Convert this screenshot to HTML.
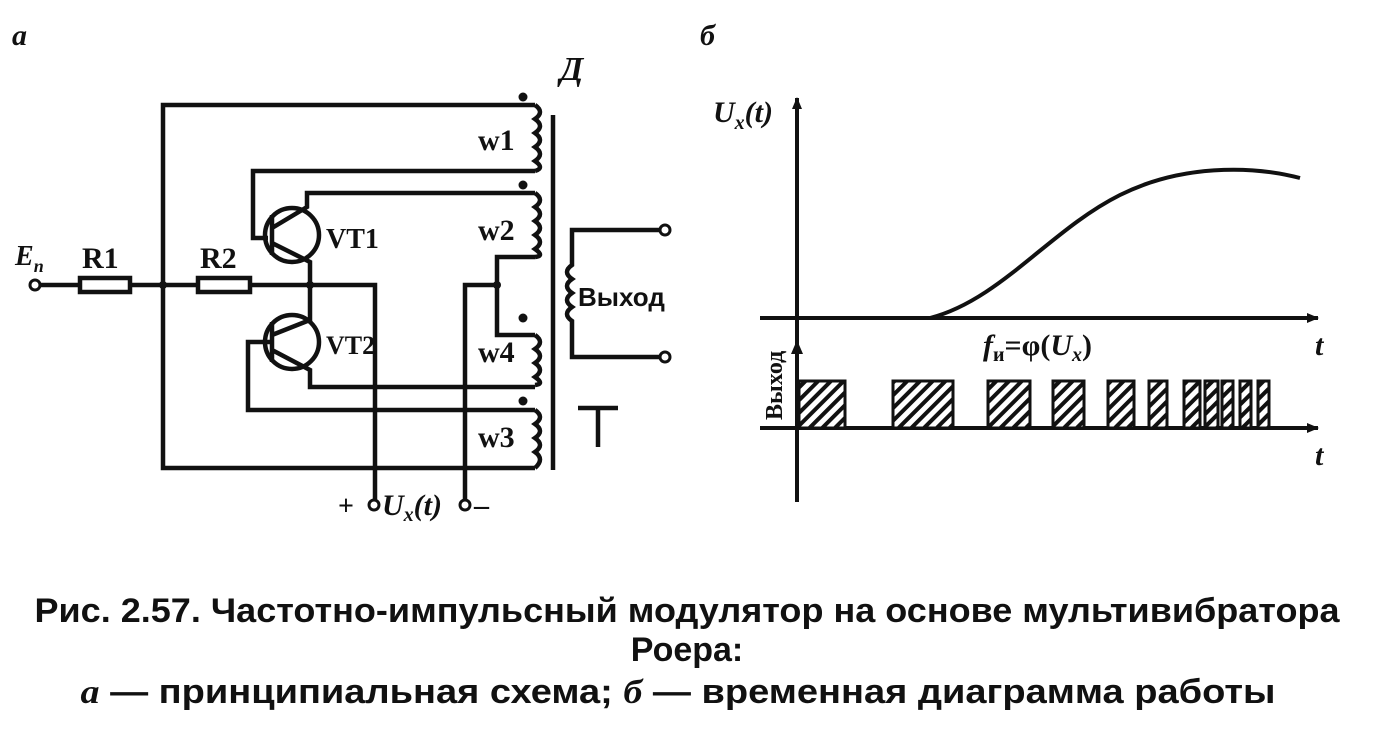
<!DOCTYPE html>
<html><head><meta charset="utf-8"><style>
html,body{margin:0;padding:0;background:#fff;}
svg{display:block;}
</style></head><body>
<svg width="1375" height="754" viewBox="0 0 1375 754" xmlns="http://www.w3.org/2000/svg" font-family="Liberation Sans, sans-serif" fill="#111">
<defs>
<pattern id="h" width="9" height="9" patternUnits="userSpaceOnUse" patternTransform="rotate(45)">
<rect width="9" height="9" fill="#fff"/><rect width="4" height="9" fill="#111"/></pattern>
<marker id="ar" markerWidth="12" markerHeight="10" refX="11" refY="5" orient="auto" markerUnits="userSpaceOnUse"><path d="M0,0 L12,5 L0,10 Z" fill="#111"/></marker>
</defs>
<g stroke="#111" stroke-width="4.5" fill="none">
<path d="M163,285 V105 H535"/>
<path d="M163,285 V468 H535"/>
<path d="M535,105 q10,7 0,14 q10,7 0,14 q10,7 0,14 q10,7 0,14 q10,7 0,10"/>
<path d="M535,171 H253 V238 H268"/>
<path d="M553,115 V470"/>
<circle cx="292" cy="235" r="27"/>
<path d="M272,215 V255 M272,228 L307,207 V193 H535 M272,243 L310,262 V285"/>
<path d="M535,193 q10,7 0,14 q10,7 0,14 q10,7 0,14 q10,7 0,14 q10,7 0,8"/>
<path d="M535,257 H497 V335 H535"/>
<path d="M535,335 q10,7 0,14 q10,7 0,14 q10,7 0,14 q10,7 0,8"/>
<path d="M38,285 H80 M130,285 H198 M250,285 H375 V502"/>
<rect x="80" y="278" width="50" height="14" fill="#fff"/>
<rect x="198" y="278" width="52" height="14" fill="#fff"/>
<path d="M497,285 H465 V502"/>
<circle cx="292" cy="342" r="27"/>
<path d="M310,285 V320 L272,335 M272,322 V362 M272,350 L310,370 V387 H535 M272,342 H248 V410 H535"/>
<path d="M535,410 q10,7 0,14 q10,7 0,14 q10,7 0,14 q10,7 0,16"/>
<path d="M662,230 H572 V265 q-10,7 0,14 q-10,7 0,14 q-10,7 0,14 q-10,7 0,14 V357 H662"/>
<path d="M578,408 H618 M598,408 V447"/>
</g>
<g fill="#111">
<circle cx="523" cy="97" r="4.5"/><circle cx="523" cy="185" r="4.5"/>
<circle cx="523" cy="318" r="4.5"/><circle cx="523" cy="401" r="4.5"/>
<circle cx="163" cy="285" r="4"/><circle cx="310" cy="285" r="4"/><circle cx="497" cy="285" r="4"/>
</g>
<g fill="#fff" stroke="#111" stroke-width="3">
<circle cx="35" cy="285" r="5"/><circle cx="665" cy="230" r="5"/><circle cx="665" cy="357" r="5"/>
<circle cx="374" cy="505" r="5"/><circle cx="465" cy="505" r="5"/>
</g>
<g font-weight="bold" font-family="Liberation Serif, serif">
<text x="12" y="45" font-size="30" font-style="italic">а</text>
<text x="560" y="80" font-size="34" font-style="italic">Д</text>
<text x="15" y="265" font-size="28" font-style="italic">E<tspan font-size="18" dy="7">п</tspan></text>
<text x="82" y="268" font-size="30">R1</text>
<text x="200" y="268" font-size="30">R2</text>
<text x="326" y="248" font-size="28">VT1</text>
<text x="326" y="354" font-size="26">VT2</text>
<text x="478" y="150" font-size="30">w1</text>
<text x="478" y="240" font-size="30">w2</text>
<text x="478" y="362" font-size="30">w4</text>
<text x="478" y="447" font-size="30">w3</text>
<text x="338" y="515" font-size="28">+</text>
<text x="382" y="515" font-size="30" font-style="italic">U<tspan font-size="20" dy="6">x</tspan><tspan dy="-6">(t)</tspan></text>
<text x="474" y="515" font-size="30">–</text>
</g>
<text x="578" y="306" font-size="26" font-weight="bold">Выход</text>
<g stroke="#111" stroke-width="4" fill="none">
<path d="M797,502 V98" marker-end="url(#ar)"/>
<path d="M760,318 H1318" marker-end="url(#ar)"/>
<path d="M797,428 V335"/>
<path d="M760,428 H1318" marker-end="url(#ar)"/>
<path d="M800,318 H930 C1000,300 1050,230 1120,195 C1180,165 1250,165 1300,178"/>
</g>
<path d="M797,340 l-6,14 h12 z" fill="#111"/>
<g stroke="#111" stroke-width="3" fill="url(#h)">
<rect x="799" y="381" width="46" height="47"/>
<rect x="893" y="381" width="60" height="47"/>
<rect x="988" y="381" width="42" height="47"/>
<rect x="1053" y="381" width="31" height="47"/>
<rect x="1108" y="381" width="26" height="47"/>
<rect x="1149" y="381" width="18" height="47"/>
<rect x="1184" y="381" width="16" height="47"/>
<rect x="1205" y="381" width="13" height="47"/>
<rect x="1222" y="381" width="11" height="47"/>
<rect x="1240" y="381" width="11" height="47"/>
<rect x="1258" y="381" width="11" height="47"/>
</g>
<g font-weight="bold" font-family="Liberation Serif, serif">
<text x="700" y="45" font-size="30" font-style="italic">б</text>
<text x="713" y="122" font-size="30" font-style="italic">U<tspan font-size="20" dy="7">x</tspan><tspan dy="-7">(t)</tspan></text>
<text x="1315" y="355" font-size="30" font-style="italic">t</text>
<text x="1315" y="465" font-size="30" font-style="italic">t</text>
<text x="983" y="355" font-size="30"><tspan font-style="italic">f</tspan><tspan font-size="20" dy="6">и</tspan><tspan dy="-6">=φ(</tspan><tspan font-style="italic">U</tspan><tspan font-size="20" dy="6" font-style="italic">x</tspan><tspan dy="-6">)</tspan></text>
<text transform="translate(782,420) rotate(-90)" font-size="24">Выход</text>
</g>
<g font-size="34" text-anchor="middle" font-weight="bold">
<text x="687" y="622" textLength="1305" lengthAdjust="spacingAndGlyphs">Рис. 2.57. Частотно-импульсный модулятор на основе мультивибратора</text>
<text x="687" y="661">Роера:</text>
<text x="678" y="703" textLength="1195" lengthAdjust="spacingAndGlyphs"><tspan font-style="italic" font-family="Liberation Serif, serif">а</tspan> — принципиальная схема; <tspan font-style="italic" font-family="Liberation Serif, serif">б</tspan> — временная диаграмма работы</text>
</g>
</svg>
</body></html>
